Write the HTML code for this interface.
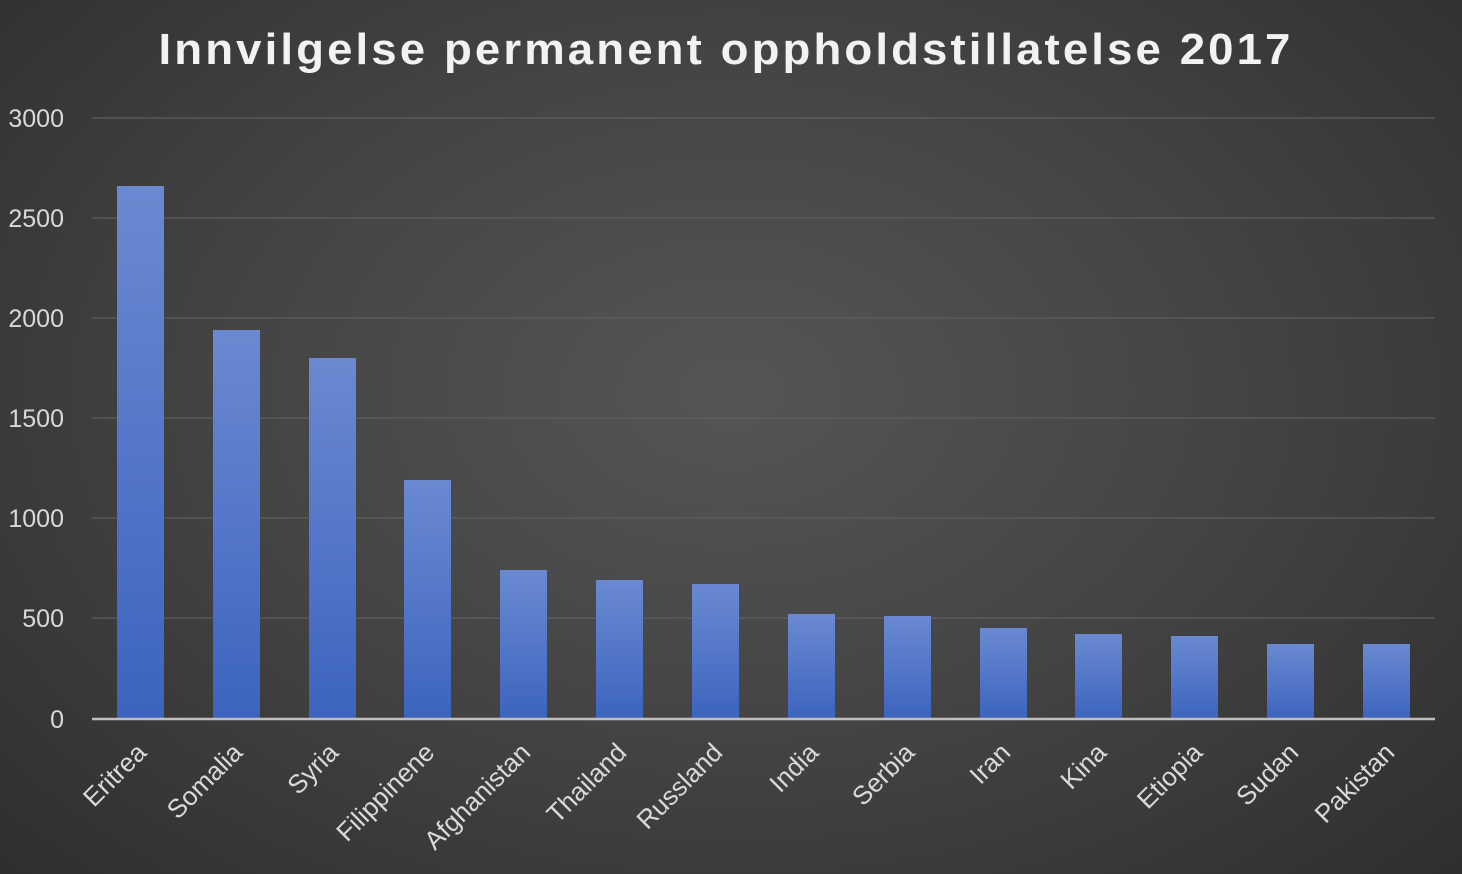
<!DOCTYPE html>
<html><head><meta charset="utf-8"><style>
html,body{margin:0;padding:0}
body{width:1462px;height:874px;overflow:hidden;background:radial-gradient(ellipse 75% 85% at 50% 45%,#555 0%,#444 45%,#2b2b2b 100%);font-family:"Liberation Sans",sans-serif}
</style></head><body>
<svg width="1462" height="874" xmlns="http://www.w3.org/2000/svg" style="position:absolute;left:0;top:0">
<defs><linearGradient id="g" x1="0" y1="0" x2="0" y2="1"><stop offset="0" stop-color="#6b89d1"/><stop offset="1" stop-color="#3c64be"/></linearGradient></defs>
<text x="726" y="64" text-anchor="middle" fill="#f2f2f2" font-size="44" font-weight="bold" letter-spacing="3" textLength="1135" lengthAdjust="spacingAndGlyphs">Innvilgelse permanent oppholdstillatelse 2017</text>
<g stroke="#5e5e5e" stroke-width="1.3">
<line x1="92" x2="1435" y1="118" y2="118"/><line x1="92" x2="1435" y1="218" y2="218"/><line x1="92" x2="1435" y1="318" y2="318"/><line x1="92" x2="1435" y1="418" y2="418"/><line x1="92" x2="1435" y1="518" y2="518"/><line x1="92" x2="1435" y1="618" y2="618"/>
</g>
<g fill="#d9d9d9" font-size="25" text-anchor="end">
<text x="64" y="127">3000</text><text x="64" y="227">2500</text><text x="64" y="327">2000</text><text x="64" y="427">1500</text><text x="64" y="527">1000</text><text x="64" y="627">500</text><text x="64" y="728">0</text>
</g>
<g fill="url(#g)">
<rect x="117" y="186" width="47" height="533"/>
<rect x="213" y="330" width="47" height="389"/>
<rect x="309" y="358" width="47" height="361"/>
<rect x="404" y="480" width="47" height="239"/>
<rect x="500" y="570" width="47" height="149"/>
<rect x="596" y="580" width="47" height="139"/>
<rect x="692" y="584" width="47" height="135"/>
<rect x="788" y="614" width="47" height="105"/>
<rect x="884" y="616" width="47" height="103"/>
<rect x="980" y="628" width="47" height="91"/>
<rect x="1075" y="634" width="47" height="85"/>
<rect x="1171" y="636" width="47" height="83"/>
<rect x="1267" y="644" width="47" height="75"/>
<rect x="1363" y="644" width="47" height="75"/>
</g>
<line x1="92" x2="1435" y1="719" y2="719" stroke="#bfbfbf" stroke-width="2.5"/>
<g fill="#d9d9d9" font-size="26" text-anchor="end">
<text transform="translate(148,754) rotate(-45)">Eritrea</text>
<text transform="translate(244,754) rotate(-45)">Somalia</text>
<text transform="translate(340,754) rotate(-45)">Syria</text>
<text transform="translate(436,754) rotate(-45)">Filippinene</text>
<text transform="translate(532,754) rotate(-45)">Afghanistan</text>
<text transform="translate(628,754) rotate(-45)">Thailand</text>
<text transform="translate(724,754) rotate(-45)">Russland</text>
<text transform="translate(820,754) rotate(-45)">India</text>
<text transform="translate(916,754) rotate(-45)">Serbia</text>
<text transform="translate(1012,754) rotate(-45)">Iran</text>
<text transform="translate(1108,754) rotate(-45)">Kina</text>
<text transform="translate(1204,754) rotate(-45)">Etiopia</text>
<text transform="translate(1300,754) rotate(-45)">Sudan</text>
<text transform="translate(1396,754) rotate(-45)">Pakistan</text>
</g>
</svg>
</body></html>
